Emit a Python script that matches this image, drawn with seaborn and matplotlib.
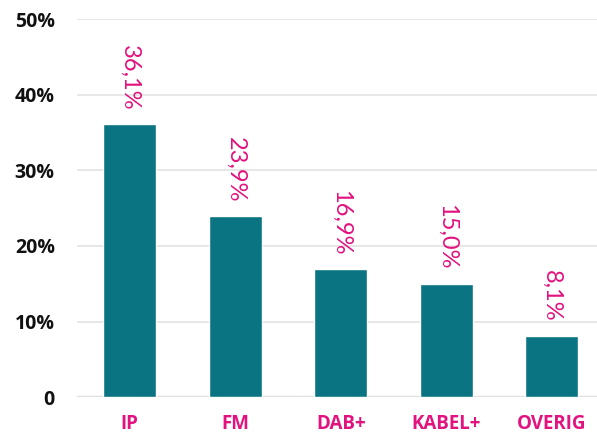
import matplotlib
matplotlib.use("Agg")
import matplotlib.pyplot as plt
import seaborn as sns
import pandas as pd

categories = ["IP", "FM", "DAB+", "KABEL+", "OVERIG"]
shares = [36.1, 23.9, 16.9, 15.0, 8.1]
labels = ["36,1%", "23,9%", "16,9%", "15,0%", "8,1%"]
yticks = [0, 10, 20, 30, 40, 50]
yticklabels = ["0", "10%", "20%", "30%", "40%", "50%"]

teal = "#0a7482"
magenta = "#e2127f"

sns.set_theme(style="white")
plt.rcParams["font.family"] = ["Open Sans", "DejaVu Sans"]

df = pd.DataFrame({"cat": categories, "share": shares})

fig = plt.figure(figsize=(5.97, 4.34), dpi=100)
ax = fig.add_axes([0.129, 0.085, 0.871, 0.871])

sns.barplot(data=df, x="cat", y="share", color=teal, saturation=1, width=0.5, ax=ax)

# value labels, rotated to read top-down
for i, (v, lab) in enumerate(zip(shares, labels)):
    ax.annotate(lab, (i, v), xytext=(0, 10), textcoords="offset points",
                rotation=270, ha="center", va="bottom", color=magenta,
                fontsize=17, fontweight="normal", family=["Lato", "DejaVu Sans"])

ax.set_ylim(0, 50)
ax.set_xlim(-0.5, 4.43)
ax.set_yticks(yticks)
ax.set_yticklabels(yticklabels, fontsize=14, fontweight="bold", color="#111111")
ax.set_xticks(range(len(categories)))
ax.set_xticklabels(categories, fontsize=13.5, fontweight="bold", color=magenta)
ax.tick_params(axis="y", length=0, pad=16)
ax.tick_params(axis="x", length=0, pad=12)
ax.set_xlabel("")
ax.set_ylabel("")
ax.grid(axis="y", color="#e3e3e3", linewidth=1.2)
ax.set_axisbelow(True)
for s in ax.spines.values():
    s.set_visible(False)
ax.axhline(0, color="#dddddd", linewidth=2.5, zorder=0)

fig.savefig("out.png", dpi=100)
